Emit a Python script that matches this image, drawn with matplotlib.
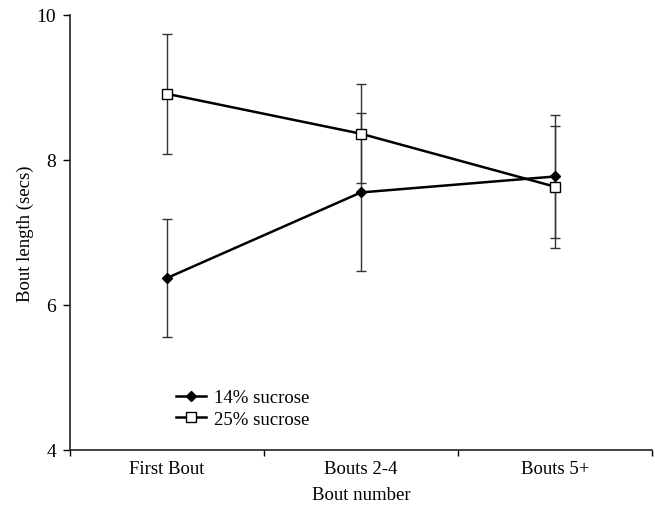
import matplotlib.pyplot as plt

plt.rcParams['font.family'] = ['Liberation Serif', 'DejaVu Serif']

bouts = ['First Bout', 'Bouts 2-4', 'Bouts 5+']
suc14 = [6.37, 7.55, 7.77]
suc14_err = [0.82, 1.09, 0.85]
suc25 = [8.91, 8.36, 7.63]
suc25_err = [0.83, 0.68, 0.84]

fig = plt.figure(figsize=(6.55, 5.10), dpi=100)
ax = fig.add_axes([0.107, 0.116, 0.888, 0.853])

x = list(range(len(bouts)))
ax.errorbar(x, suc14, yerr=suc14_err, fmt='none', ecolor='#333333',
            elinewidth=1.0, capsize=3.5, capthick=1.0, zorder=1)
ax.errorbar(x, suc25, yerr=suc25_err, fmt='none', ecolor='#333333',
            elinewidth=1.0, capsize=3.5, capthick=1.0, zorder=1)
ax.plot(x, suc14, color='black', lw=1.8, marker='D', ms=5.5,
        mfc='black', mec='black', label='14% sucrose', zorder=3)
ax.plot(x, suc25, color='black', lw=1.8, marker='s', ms=7,
        mfc='white', mec='black', mew=1.0, label='25% sucrose', zorder=3)

ax.set_xlim(-0.5, 2.5)
ax.set_ylim(4, 10)
ax.set_yticks([4, 6, 8, 10])
ax.set_xticks([-0.5, 0.5, 1.5, 2.5])
ax.set_xticklabels([])
ax.set_xticks(x, minor=True)
ax.set_xticklabels(bouts, minor=True)
ax.tick_params(axis='x', which='minor', length=0, pad=7, labelsize=13.5)
ax.tick_params(axis='x', which='major', length=4, direction='out', width=1)
ax.tick_params(axis='y', length=5, direction='out', width=1, labelsize=14, pad=5)

for s in ['top', 'right']:
    ax.spines[s].set_visible(False)
for s in ['left', 'bottom']:
    ax.spines[s].set_linewidth(1.2)
    ax.spines[s].set_color('#222222')

ax.set_xlabel('Bout number', fontsize=13.5, labelpad=7)
ax.set_ylabel('Bout length (secs)', fontsize=13.5, labelpad=2)

ax.legend(loc='lower left', bbox_to_anchor=(0.17, 0.033), frameon=False,
          fontsize=13.5, handlelength=1.6, handletextpad=0.4, labelspacing=0.25,
          borderaxespad=0)

fig.savefig('out.png', dpi=100)
